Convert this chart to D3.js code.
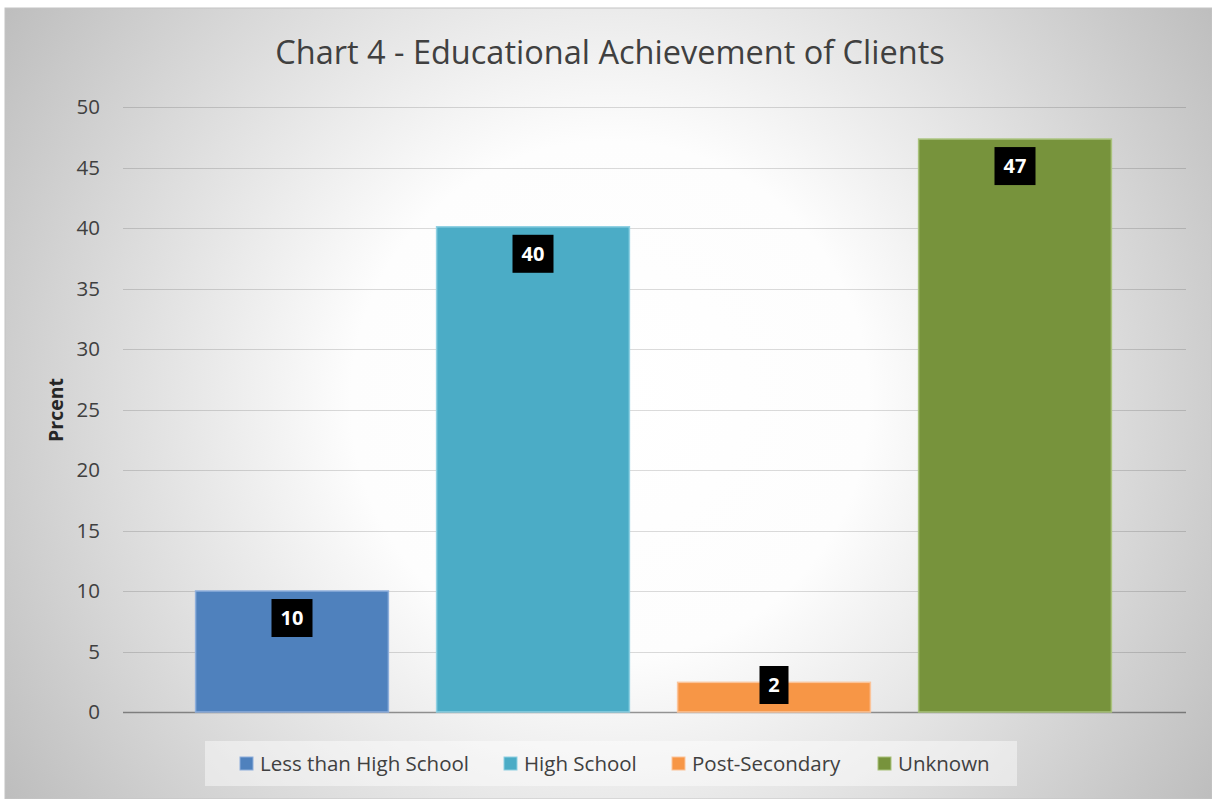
<!DOCTYPE html>
<html>
<head>
<meta charset="utf-8">
<script src="https://cdn.jsdelivr.net/npm/d3@7"></script>
<style>
  body { margin: 0; background: #fff; }
  svg { display: block; font-family: "Open Sans", sans-serif; }
</style>
</head>
<body>
<div id="chart"></div>
<script>
const categories = ["Less than High School", "High School", "Post-Secondary", "Unknown"];
const values = [10, 40.1, 2.45, 47.35];
const labels = ["10", "40", "2", "47"];
const colors = ["#4f81bd", "#4bacc6", "#f79646", "#77933c"];
const strokes = ["#8eaedb", "#8fd0e2", "#fbc49a", "#a9c27b"];
const yTicks = [0, 5, 10, 15, 20, 25, 30, 35, 40, 45, 50];

const W = 1212, H = 799;
const svg = d3.select("#chart").append("svg")
    .attr("width", W)
    .attr("height", H);

// radial background
const defs = svg.append("defs");
const grad = defs.append("radialGradient")
    .attr("id", "bg")
    .attr("gradientUnits", "userSpaceOnUse")
    .attr("cx", 610).attr("cy", 400).attr("r", 740);
grad.append("stop").attr("offset", "0%").attr("stop-color", "#ffffff");
grad.append("stop").attr("offset", "35%").attr("stop-color", "#fdfdfd");
grad.append("stop").attr("offset", "100%").attr("stop-color", "#bbbbbb");

svg.append("rect")
    .attr("x", 5).attr("y", 8)
    .attr("width", W - 5).attr("height", H - 8)
    .attr("fill", "url(#bg)")
    .attr("stroke", "#c4c4c4")
    .attr("stroke-width", 1);

const x = d3.scaleBand().domain(categories).range([171.5, 1135.5]).paddingInner(0.2).paddingOuter(0.1);
const y = d3.scaleLinear().domain([0, 50]).range([712, 107]);

// gridlines
svg.append("g")
    .selectAll("line")
    .data(yTicks)
    .join("line")
    .attr("x1", 123).attr("x2", 1186)
    .attr("y1", d => Math.round(y(d)) + 0.5)
    .attr("y2", d => Math.round(y(d)) + 0.5)
    .attr("stroke", d => d === 0 ? "rgba(0,0,0,0.4)" : "rgba(0,0,0,0.14)")
    .attr("stroke-width", d => d === 0 ? 1.5 : 1.2);

// y tick labels
svg.append("g")
    .selectAll("text")
    .data(yTicks)
    .join("text")
    .attr("x", 100)
    .attr("y", d => y(d))
    .attr("dy", "0.35em")
    .attr("text-anchor", "end")
    .attr("fill", "#404040")
    .style("font-size", "20.5px")
    .text(d => d);

// axis title
svg.append("text")
    .attr("transform", "translate(63,410) rotate(-90)")
    .attr("text-anchor", "middle")
    .attr("fill", "#262626")
    .style("font-size", "19.5px")
    .style("font-weight", "bold")
    .text("Prcent");

// bars
svg.append("g")
    .selectAll("rect")
    .data(categories)
    .join("rect")
    .attr("x", d => x(d))
    .attr("width", x.bandwidth())
    .attr("y", (d, i) => y(values[i]))
    .attr("height", (d, i) => y(0) - y(values[i]))
    .attr("fill", (d, i) => colors[i])
    .attr("stroke", (d, i) => strokes[i])
    .attr("stroke-width", 1.5);

// data labels
const lab = svg.append("g")
    .selectAll("g")
    .data(categories)
    .join("g")
    .attr("transform", (d, i) => {
        const cy = Math.min(y(values[i]) + 27, y(0) - 27);
        return `translate(${x(d) + x.bandwidth() / 2},${cy})`;
    });
lab.append("rect")
    .attr("x", (d, i) => labels[i].length > 1 ? -20.5 : -14.5)
    .attr("width", (d, i) => labels[i].length > 1 ? 41 : 29)
    .attr("y", -19)
    .attr("height", 38)
    .attr("fill", "#000");
lab.append("text")
    .attr("text-anchor", "middle")
    .attr("dy", "0.36em")
    .attr("fill", "#fff")
    .style("font-size", "20px")
    .style("font-weight", "bold")
    .text((d, i) => labels[i]);

// title
svg.append("text")
    .attr("x", 610)
    .attr("y", 64)
    .attr("text-anchor", "middle")
    .attr("fill", "#404040")
    .style("font-size", "32.5px")
    .text("Chart 4 - Educational Achievement of Clients");

// legend
const legendX = [240, 504, 672, 878];
svg.append("rect")
    .attr("x", 205).attr("y", 741)
    .attr("width", 812).attr("height", 45)
    .attr("fill", "rgba(255,255,255,0.45)");
const leg = svg.append("g")
    .selectAll("g")
    .data(categories)
    .join("g")
    .attr("transform", (d, i) => `translate(${legendX[i]},757)`);
leg.append("rect")
    .attr("width", 13).attr("height", 13)
    .attr("fill", (d, i) => colors[i])
    .attr("stroke", (d, i) => strokes[i])
    .attr("stroke-width", 1);
leg.append("text")
    .attr("x", 20)
    .attr("y", 6.5)
    .attr("dy", "0.36em")
    .attr("fill", "#404040")
    .style("font-size", "20.5px")
    .text(d => d);
</script>
</body>
</html>
